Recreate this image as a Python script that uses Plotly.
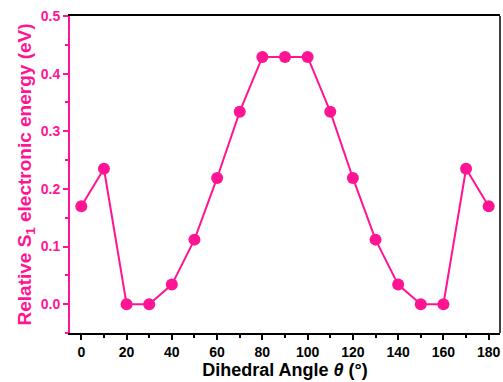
import plotly.graph_objects as go

angles = [0, 10, 20, 30, 40, 50, 60, 70, 80, 90, 100, 110, 120, 130, 140, 150, 160, 170, 180]
energies = [0.170, 0.235, 0.000, 0.000, 0.034, 0.112, 0.219, 0.334, 0.429, 0.429, 0.429,
            0.334, 0.219, 0.112, 0.034, 0.000, 0.000, 0.235, 0.170]
x_ticks = [0, 20, 40, 60, 80, 100, 120, 140, 160, 180]
y_ticks = [0.0, 0.1, 0.2, 0.3, 0.4, 0.5]

PINK = "#FF1493"
FONT = "Liberation Sans, Arial, sans-serif"

fig = go.Figure()
fig.add_trace(go.Scatter(
    x=angles, y=energies, mode="lines+markers",
    line=dict(color=PINK, width=2),
    marker=dict(color=PINK, size=12),
    showlegend=False,
))

fig.update_layout(
    width=503, height=382,
    margin=dict(l=70, r=3, t=16, b=49),
    paper_bgcolor="white", plot_bgcolor="white",
    font=dict(family=FONT),
)
fig.update_xaxes(
    range=[-5, 185], tickvals=x_ticks, ticktext=[str(v) for v in x_ticks],
    showgrid=False, zeroline=False,
    showline=True, linecolor="black", linewidth=1.5, mirror=True,
    ticks="outside", ticklen=5, tickwidth=1.5, tickcolor="black",
    minor=dict(tickvals=list(range(10, 180, 20)), ticks="outside", ticklen=3, tickwidth=1.5, tickcolor="black"),
    tickfont=dict(family=FONT, size=14, color="black", weight="bold"),
    title=dict(text="Dihedral Angle <i>θ</i> (°)", font=dict(family=FONT, size=18, color="black", weight="bold"), standoff=5),
)
fig.update_yaxes(
    range=[-0.05, 0.5], tickvals=y_ticks, ticktext=[f"{v:.1f}" for v in y_ticks],
    showgrid=False, zeroline=False,
    showline=True, linecolor=PINK, linewidth=2,
    ticks="outside", ticklen=5, tickwidth=1.5, tickcolor=PINK,
    minor=dict(tickvals=[-0.05, 0.05, 0.15, 0.25, 0.35, 0.45], ticks="outside", ticklen=3, tickwidth=1.5, tickcolor=PINK),
    tickfont=dict(family=FONT, size=14, color=PINK, weight="bold"),
    title=dict(text="Relative S<sub>1</sub> electronic energy (eV)", font=dict(family=FONT, size=19, color=PINK, weight="bold"), standoff=4),
)
fig.add_shape(type="line", xref="paper", yref="paper", x0=1, x1=1, y0=0, y1=1,
              line=dict(color="black", width=1.5))

fig.write_html("out.html", config={"displayModeBar": False},
               post_script="document.body.style.margin='0';document.body.style.overflow='hidden';")
